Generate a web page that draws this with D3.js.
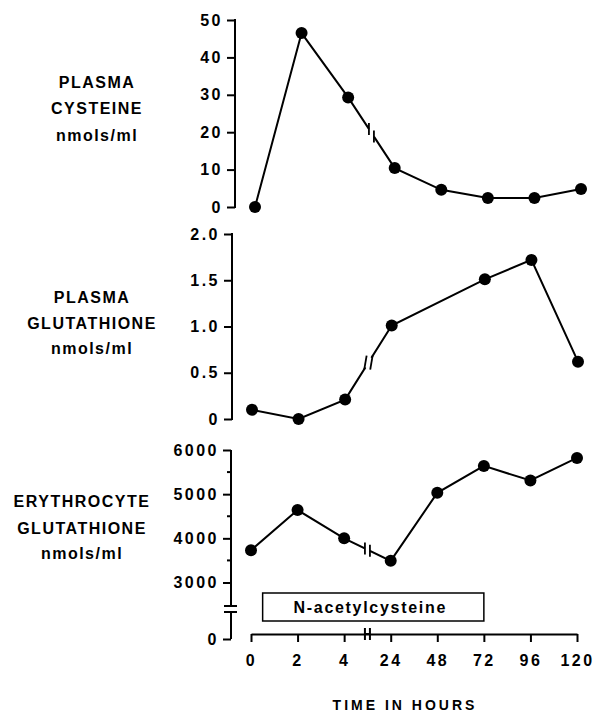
<!DOCTYPE html>
<html>
<head>
<meta charset="utf-8">
<script src="https://cdn.jsdelivr.net/npm/d3@7"></script>
<style>
    body { margin: 0; background: #fff; }
    svg { display: block; }
    text { font-family: "Liberation Sans", Arial, sans-serif; font-weight: bold; fill: #000; }
    .axis text { font-size: 16px; letter-spacing: 2.5px; }
    .axis line, .axis path { stroke: #000; stroke-width: 2; }
    .name { font-size: 16px; letter-spacing: 1.5px; }
</style>
</head>
<body>
<div class="container"></div>
<script>
// Time points (hours) and measured values
const hours = [0, 2, 4, 24, 48, 72, 96, 120]
const cysteine = [0, 46.5, 29.3, 10.4, 4.6, 2.4, 2.4, 4.8]
const plasmaGsh = [0.1, 0, 0.21, 1.01, null, 1.51, 1.72, 0.62]   // no sample at 48 h
const rbcGsh = [3730, 4640, 4000, 3490, 5030, 5640, 5310, 5820]
const treatment = [0.5, 72]   // hours on N-acetylcysteine

// Tick labels
const cysteineTicks = [0, 10, 20, 30, 40, 50]
const plasmaGshTicks = [0, 0.5, 1.0, 1.5, 2.0]
const rbcTicks = [0, 3000, 4000, 5000, 6000]
const rbcMinor = [3500, 4500, 5500]

const width = 594
const height = 715
const axisX = 231
const xAxisY = 634

const svg = d3.select(".container")
    .append("svg")
    .attr("width", width)
    .attr("height", height)

// the hour axis is not to scale: every time point gets the same spacing
const xp = d3.scalePoint().domain(hours).range([251, 577])
const x = d3.scaleLinear().domain(hours).range(hours.map(h => xp(h)))

const panels = [
    {
        name: ["PLASMA", "CYSTEINE", "nmols/ml"],
        values: cysteine, ticks: cysteineTicks, minor: [],
        y: d3.scaleLinear().domain([0, 50]).range([207, 20]),
        fmt: d3.format("d"),
        dx: 4, lx: 93, ly: [82, 108, 135], slant: false
    },
    {
        name: ["PLASMA", "GLUTATHIONE", "nmols/ml"],
        values: plasmaGsh, ticks: plasmaGshTicks, minor: [],
        y: d3.scaleLinear().domain([0, 2]).range([419, 234]),
        fmt: d => d === 0 ? "0" : d3.format(".1f")(d),
        dx: 1, lx: 91, ly: [297, 323, 348], slant: true
    },
    {
        name: ["ERYTHROCYTE", "GLUTATHIONE", "nmols/ml"],
        values: rbcGsh, ticks: rbcTicks, minor: rbcMinor,
        // broken axis: 0 sits just below the 3000-6000 range
        y: d3.scaleLinear().domain([0, 2400, 6000]).range([639, 609, 450]),
        fmt: d3.format("d"),
        dx: 0, lx: 82, ly: [501, 528, 553], slant: false, axisBreak: 2400
    }
]

function seg(g, x1, y1, x2, y2, w, color) {
    g.append("line")
        .attr("x1", x1).attr("y1", y1)
        .attr("x2", x2).attr("y2", y2)
        .attr("stroke", color || "#000")
        .attr("stroke-width", w || 2)
}

panels.forEach(p => {
    const g = svg.append("g").attr("transform", `translate(${p.dx},0)`)

    // name of the measurement
    g.append("text")
        .attr("class", "name")
        .attr("text-anchor", "middle")
        .selectAll("tspan")
        .data(p.name)
        .enter()
        .append("tspan")
        .attr("x", p.lx)
        .attr("y", (d, i) => p.ly[i] + 6)
        .text(d => d)

    // y axis
    const ax = g.append("g")
        .attr("class", "axis")
        .attr("transform", `translate(${axisX},0)`)
        .call(d3.axisLeft(p.y).tickValues(p.ticks).tickSize(8).tickPadding(4).tickFormat(p.fmt))
    ax.select(".domain").remove()

    p.minor.forEach(v => seg(ax, -4, p.y(v), 0, p.y(v)))

    const top = p.y(p.ticks[p.ticks.length - 1])
    const bottom = p.y(0)
    if (p.axisBreak) {
        const b = p.y(p.axisBreak)
        seg(ax, 0, top, 0, b - 3)
        seg(ax, 0, b + 3, 0, bottom)
        seg(ax, -7, b - 3, 6, b - 3, 1.5)
        seg(ax, -7, b + 3, 6, b + 3, 1.5)
    } else {
        seg(ax, 0, top - 1, 0, bottom + 1)
    }

    // data line
    const pts = hours.map((h, i) => ({h: h, v: p.values[i]})).filter(d => d.v != null)
    const line = d3.line().x(d => x(d.h)).y(d => p.y(d.v))

    g.append("path")
        .datum(pts)
        .attr("d", line)
        .attr("fill", "none")
        .attr("stroke", "#000")
        .attr("stroke-width", 2)

    // break marks on the segment between 4 h and 24 h
    const a = pts.find(d => d.h === 4)
    const b = pts.find(d => d.h === 24)
    const x1 = x(4), y1 = p.y(a.v), x2 = x(24), y2 = p.y(b.v)
    const yAt = xx => y1 + (y2 - y1) * (xx - x1) / (x2 - x1)
    const xm = (x1 + x2) / 2
    const gap = p.slant ? 3 : 2.5
    seg(g, xm - gap, yAt(xm - gap), xm + gap, yAt(xm + gap), 5, "#fff")
    ;[-gap, gap].forEach(o => {
        const cx = xm + o
        if (p.slant) {
            const cy = yAt(xm)
            seg(g, cx - 1.2, cy + 7, cx + 1.2, cy - 7, 1.8)
        } else {
            const cy = yAt(cx)
            seg(g, cx, cy - 6, cx, cy + 6, 1.8)
        }
    })

    g.selectAll("circle")
        .data(pts)
        .enter()
        .append("circle")
        .attr("cx", d => x(d.h))
        .attr("cy", d => p.y(d.v))
        .attr("r", 6)
        .attr("fill", "#000")
})

// treatment bar
const bar = svg.append("g")
bar.append("rect")
    .attr("x", x(treatment[0]))
    .attr("y", 593)
    .attr("width", x(treatment[1]) - x(treatment[0]))
    .attr("height", 28)
    .attr("fill", "#fff")
    .attr("stroke", "#000")
    .attr("stroke-width", 1.5)
bar.append("text")
    .attr("x", (x(treatment[0]) + x(treatment[1])) / 2 - 3)
    .attr("y", 613)
    .attr("text-anchor", "middle")
    .style("font-size", "16px")
    .style("letter-spacing", "1.7px")
    .text("N-acetylcysteine")

// time axis
const xa = svg.append("g")
    .attr("class", "axis")
    .attr("transform", `translate(0,${xAxisY})`)
    .call(d3.axisBottom(x).tickValues(hours).tickSize(8).tickSizeOuter(0).tickPadding(13).tickFormat(d3.format("d")))

const xb = (x(4) + x(24)) / 2
seg(xa, xb - 2.5, 0, xb + 2.5, 0, 5, "#fff")
seg(xa, xb - 2.5, -6, xb - 2.5, 6, 1.8)
seg(xa, xb + 2.5, -6, xb + 2.5, 6, 1.8)

svg.append("text")
    .attr("x", 405)
    .attr("y", 710)
    .attr("text-anchor", "middle")
    .style("font-size", "14px")
    .style("letter-spacing", "3px")
    .text("TIME IN HOURS")
</script>
</body>
</html>
